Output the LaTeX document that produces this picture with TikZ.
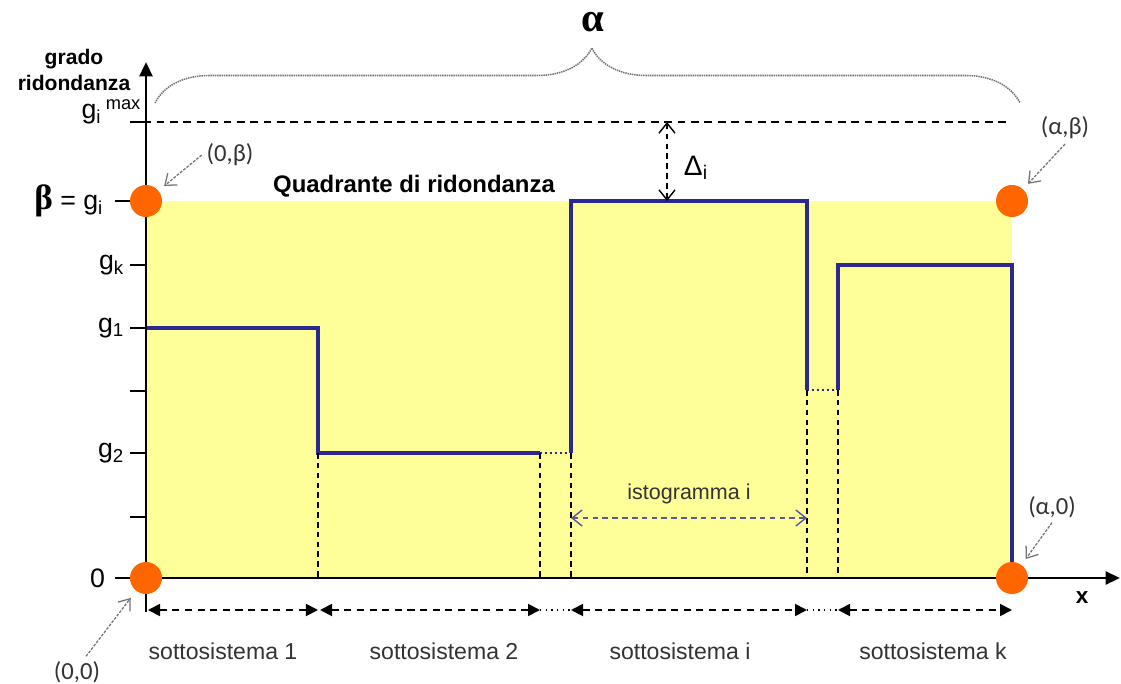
\documentclass[tikz,border=0pt]{standalone}
\usepackage{fontspec}
\setmainfont{Liberation Sans}
\newfontfamily\greekfont{Liberation Serif}
\newfontfamily\calfont{Carlito}
\usetikzlibrary{arrows.meta,decorations.pathreplacing}
\definecolor{quadyellow}{rgb}{1,1,0.6}
\definecolor{histblue}{rgb}{0.16,0.16,0.56}
\definecolor{dotorange}{rgb}{1,0.4,0}
\definecolor{labgray}{rgb}{0.2,0.2,0.2}
\definecolor{pointgray}{rgb}{0.45,0.45,0.45}
\definecolor{arrowblue}{rgb}{0.35,0.35,0.62}

\tikzset{
  axisline/.style={line width=2.1pt,-{Triangle[length=0.36cm,width=0.32cm]}},
  axtick/.style={line width=1.6pt},
  histline/.style={histblue,line width=2.5pt},
  histgap/.style={histblue,line width=1.5pt,dotted},
  guide/.style={black,line width=0.9pt,dash pattern=on 4pt off 3pt},
  subarrow/.style={line width=1.3pt,dash pattern=on 5pt off 4pt,{Triangle[length=0.3cm,width=0.3cm]}-{Triangle[length=0.3cm,width=0.3cm]}},
  gapdots/.style={line width=1.2pt,dash pattern=on 1pt off 3pt},
  dimopen/.style={line width=1pt,dash pattern=on 4pt off 3pt,{Straight Barb[length=0.25cm,width=0.4cm]}-{Straight Barb[length=0.25cm,width=0.4cm]}},
  cornerdot/.style={circle,fill=dotorange,minimum size=0.8cm,inner sep=0pt},
  pointlab/.style={font=\calfont\fontsize{17.5}{19}\selectfont,text=labgray},
  pointarrow/.style={pointgray,line width=0.9pt,dash pattern=on 2pt off 1pt,-{Straight Barb[length=0.25cm,width=0.38cm]}},
  ticklab/.style={anchor=east,font=\fontsize{19}{21}\selectfont},
  sublab/.style={font=\fontsize{16.4}{19}\selectfont,text=labgray},
  bracestyle/.style={pointgray,line width=1.1pt,dash pattern=on 1pt off 0.6pt,decorate,decoration={brace,amplitude=1.375cm,aspect=0.505}}
}

\begin{document}
\begin{tikzpicture}[line join=miter,x=0.025cm,y=-0.025cm]
  \useasboundingbox (0,0) rectangle (1121,684);
  % quadrante
  \fill[quadyellow] (146,201) rectangle (1012,578);
  \draw[guide,line width=1pt,dash pattern=on 5.5pt off 4pt] (130,122) -- (1010,122);

  % istogrammi
  \draw[histline] (146,328) -- (318,328) -- (318,453) -- (540,453);
  \draw[histline] (571,453) -- (571,201) -- (807,201) -- (807,390);
  \draw[histline] (838,390) -- (838,265) -- (1012,265) -- (1012,578);
  \draw[histgap] (540,453) -- (571,453);
  \draw[histgap] (807,390) -- (838,390);
  \foreach \x/\y in {318/453,540/453,571/453,807/390,838/390}
    \draw[guide] (\x,\y) -- (\x,578);

  % assi
  \draw[axisline] (146,612) -- (146,62);
  \draw[axisline] (146,578) -- (1120,578);
  \foreach \y in {122,265,328,391,453,517}
    \draw[axtick] (130,\y) -- (146,\y);
  \foreach \y in {201,578}
    \draw[axtick] (115,\y) -- (146,\y);
  \node[font=\bfseries\fontsize{15}{18.5}\selectfont,align=center] (ylab) at (74,70) {grado\\ridondanza};
  \node[font=\bfseries\fontsize{16}{18}\selectfont] (xlab) at (1082,598) {x};

  % etichette asse y
  \node[ticklab] (gmax) at (146,112) {g\textsubscript{i}\,\textsuperscript{\fontsize{13}{14}\selectfont max}};
  \node[ticklab] (blab) at (108,201) {{\greekfont\bfseries\fontsize{25}{27}\selectfont β} = g\textsubscript{i}};
  \node[ticklab] (gk) at (129,265) {g\textsubscript{k}};
  \node[ticklab] (g1) at (129,328) {g\textsubscript{1}};
  \node[ticklab] (g2) at (129,453) {g\textsubscript{2}};
  \node[ticklab] (zero) at (110,578) {0};

  \node[font=\bfseries\fontsize{17}{20}\selectfont] (qlab) at (414,186) {Quadrante di ridondanza};

  % alfa
  \draw[bracestyle] (155,103) -- (1020,103);
  \node[font=\greekfont\bfseries\fontsize{29}{31}\selectfont] (alab) at (593,22) {α};

  % delta
  \coordinate (dtop) at (667,122);
  \coordinate (dbot) at (667,201);
  \draw[dimopen] (dtop) -- (dbot);
  \node[anchor=west,font=\fontsize{20}{22}\selectfont] (dlab) at (679,168) {Δ\textsubscript{i}};

  % istogramma i
  \coordinate (h1) at (571,518);
  \coordinate (h2) at (807,518);
  \draw[dimopen,arrowblue] (h1) -- (h2);
  \node[sublab,font=\fontsize{15.3}{18}\selectfont] (hlab) at (689,494) {istogramma i};

  % sottosistemi
  \foreach \a/\b/\n in {148/318/s1,320/540/s2,571/807/si,838/1012/sk} {
    \coordinate (\n a) at (\a,610);
    \coordinate (\n b) at (\b,610);
    \draw[subarrow] (\n a) -- (\n b);
  }
  \draw[gapdots] (s2b) -- (sia);
  \draw[gapdots] (sib) -- (ska);
  \node[sublab] (ls1) at (223,651) {sottosistema 1};
  \node[sublab] (ls2) at (444,651) {sottosistema 2};
  \node[sublab] (lsi) at (680,651) {sottosistema i};
  \node[sublab] (lsk) at (933,651) {sottosistema k};

  % vertici
  \node[cornerdot] (dO) at (146,578) {};
  \node[cornerdot] (dB) at (146,201) {};
  \node[cornerdot] (dAB) at (1012,201) {};
  \node[cornerdot] (dA) at (1012,578) {};
  \node[pointlab] (lO) at (77,672) {(0,0)};
  \node[pointlab] (lB) at (230,155) {(0,β)};
  \node[pointlab] (lAB) at (1065,128) {(α,β)};
  \node[pointlab] (lA) at (1052,507) {(α,0)};
  \draw[pointarrow,shorten >=0.22cm] (lO.60) -- (dO);
  \draw[pointarrow,shorten >=0.18cm] (lB.west) -- (dB);
  \draw[pointarrow,shorten >=0.18cm] (lAB.south) -- (dAB);
  \draw[pointarrow,shorten >=0.18cm] (lA.south) -- (dA);
\end{tikzpicture}
\end{document}
